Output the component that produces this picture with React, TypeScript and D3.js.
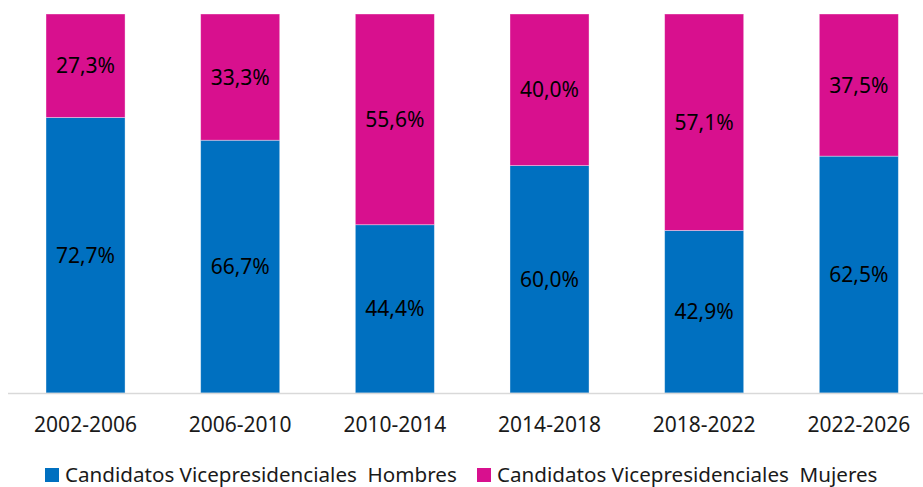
import React from "react";
import * as d3 from "d3";

const categories = ["2002-2006", "2006-2010", "2010-2014", "2014-2018", "2018-2022", "2022-2026"];
const hombres = [72.7, 66.7, 44.4, 60.0, 42.9, 62.5];
const mujeres = [27.3, 33.3, 55.6, 40.0, 57.1, 37.5];
const seriesNames = ["Candidatos Vicepresidenciales  Hombres", "Candidatos Vicepresidenciales  Mujeres"];
const seriesColors = ["#0070C0", "#D8108E"];

const W = 923;
const H = 487;
const FONT = "'Noto Sans', 'Open Sans', sans-serif";

export default function App() {
  const x = d3
    .scaleBand<string>()
    .domain(categories)
    .range([8.2, 8.2 + 6 * 154.66])
    .paddingInner(0.489)
    .paddingOuter(0.2445);
  const y = d3.scaleLinear().domain([0, 100]).range([393, 14]);

  const rows = categories.map((c, i) => ({ cat: c, h: hombres[i], m: mujeres[i] }));
  const stack = d3.stack<any>().keys(["h", "m"])(rows);
  const fmt = (v: number) => v.toFixed(1).replace(".", ",") + "%";

  return (
    <div style={{ position: "fixed", left: 0, top: 0 }}>
      <svg width={W} height={H} style={{ display: "block", background: "#fff" }} fontFamily={FONT}>
        {stack.map((layer, si) => (
          <g key={si}>
            {layer.map((d, i) => {
              const x0 = x(categories[i])!;
              const y1 = y(d[1]);
              const y0 = y(d[0]);
              return (
                <g key={i}>
                  <rect
                    x={x0}
                    y={y1}
                    width={x.bandwidth()}
                    height={y0 - y1}
                    fill={seriesColors[si]}
                    stroke="#ffffff"
                    strokeOpacity={0.45}
                    strokeWidth={0.8}
                  />
                  <text
                    x={x0 + x.bandwidth() / 2}
                    y={(y0 + y1) / 2}
                    dy="0.36em"
                    textAnchor="middle"
                    fontSize={21}
                    fill="#000"
                  >
                    {fmt(d[1] - d[0])}
                  </text>
                </g>
              );
            })}
          </g>
        ))}
        <line x1={8} x2={W} y1={393.5} y2={393.5} stroke="#D9D9D9" strokeWidth={1.5} />
        {categories.map((c) => (
          <text
            key={c}
            x={x(c)! + x.bandwidth() / 2}
            y={432}
            textAnchor="middle"
            fontSize={21}
            fill="#1a1a1a"
          >
            {c}
          </text>
        ))}
        {seriesNames.map((n, i) => {
          const lx = [45, 477][i];
          return (
            <g key={n}>
              <rect x={lx} y={468} width={14} height={14} fill={seriesColors[i]} />
              <text x={lx + 20} y={482} fontSize={20.6} fill="#1a1a1a" style={{ whiteSpace: "pre" }}>
                {n}
              </text>
            </g>
          );
        })}
      </svg>
    </div>
  );
}
